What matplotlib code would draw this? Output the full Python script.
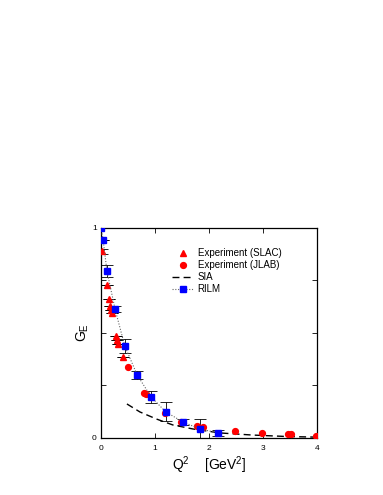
import matplotlib
matplotlib.use("Agg")
import matplotlib.pyplot as plt
from matplotlib.legend_handler import HandlerLine2D
import numpy as np

plt.rcParams['font.family'] = ['Liberation Sans', 'DejaVu Sans']
plt.rcParams['mathtext.fontset'] = 'custom'
plt.rcParams['mathtext.rm'] = 'Liberation Sans'
plt.rcParams['mathtext.it'] = 'Liberation Sans'

# SLAC experiment (red triangles)
slac_x = [0.02, 0.11, 0.15, 0.17, 0.19, 0.20, 0.28, 0.30, 0.31, 0.41]
slac_y = [0.89, 0.73, 0.66, 0.63, 0.61, 0.595, 0.486, 0.467, 0.448, 0.386]
slac_err = [0.012, 0, 0, 0, 0, 0, 0, 0, 0, 0]

# JLAB experiment (red circles)
jlab_x = [0.50, 0.79, 0.83, 1.18, 1.48, 1.78, 1.89, 2.48, 2.98, 3.46, 3.52, 3.98]
jlab_y = [0.338, 0.214, 0.21, 0.12, 0.078, 0.057, 0.052, 0.033, 0.023, 0.019, 0.017, 0.009]

# SIA (dashed curve)
sia_x = [0.48, 0.72, 1.03, 1.33, 1.70, 2.20, 2.80, 3.44, 4.0]
sia_y = [0.162, 0.124, 0.090, 0.062, 0.043, 0.024, 0.014, 0.007, 0.004]

# RILM (blue squares with errors)
rilm_x = [0.0, 0.04, 0.11, 0.26, 0.44, 0.67, 0.93, 1.20, 1.52, 1.83, 2.17]
rilm_y = [1.0, 0.943, 0.795, 0.614, 0.438, 0.30, 0.195, 0.124, 0.076, 0.043, 0.024]
rilm_err = [0.0, 0.0, 0.03, 0.015, 0.033, 0.02, 0.03, 0.045, 0.015, 0.045, 0.015]

x_ticks = [0, 1, 2, 3, 4]
y_ticks = [0, 0.25, 0.5, 0.75, 1.0]
y_ticklabels = ['0', '', '', '', '1']

fig = plt.figure(figsize=(3.83, 4.95), dpi=100)
ax = fig.add_axes([0.2637, 0.1152, 0.564, 0.4242])

# error bars
ax.errorbar(rilm_x, rilm_y, yerr=rilm_err, fmt='none', ecolor='black',
            elinewidth=0.6, capsize=4, capthick=0.6, zorder=2)
ax.errorbar(slac_x, slac_y, yerr=slac_err, fmt='none', ecolor='black',
            elinewidth=0.6, capsize=4, capthick=0.6, zorder=2)

l_slac, = ax.plot(slac_x, slac_y, linestyle='none', marker='^', color='red',
                  markersize=4.5, label='Experiment (SLAC)', zorder=3)
l_jlab, = ax.plot(jlab_x, jlab_y, linestyle='none', marker='o', color='red',
                  markersize=4.2, label='Experiment (JLAB)', zorder=3)
l_sia, = ax.plot(sia_x, sia_y, linestyle=(0, (5, 3)), color='black',
                 linewidth=1.0, label='SIA', zorder=2)
l_rilm, = ax.plot(rilm_x, rilm_y, linestyle=(0, (1, 1.5)), color='#666666',
                  linewidth=0.8, marker='s', markersize=4,
                  markerfacecolor='blue', markeredgecolor='blue',
                  label='RILM', zorder=4)

ax.set_xlim(0, 4)
ax.set_ylim(0, 1)
ax.set_xticks(x_ticks)
ax.set_xticklabels([str(t) for t in x_ticks])
ax.set_yticks(y_ticks)
ax.set_yticklabels(y_ticklabels)
ax.tick_params(direction='in', top=True, right=True, length=3.5, width=0.6,
               labelsize=6)
ax.tick_params(axis='x', pad=5)
ax.tick_params(axis='y', pad=3)
for s in ax.spines.values():
    s.set_linewidth(0.9)

ax.set_xlabel(r'Q$^2$    [GeV$^2$]', fontsize=10, labelpad=2)
ax.set_ylabel(r'G$_\mathrm{E}$', fontsize=10, labelpad=1)


class EndMarkerHandler(HandlerLine2D):
    def get_xdata(self, legend, xdescent, ydescent, width, height, fontsize):
        x0 = -xdescent
        return [x0, x0 + width], [x0 + width]


class TwoPointHandler(HandlerLine2D):
    def get_xdata(self, legend, xdescent, ydescent, width, height, fontsize):
        x0 = -xdescent
        return [x0, x0 + width], [x0, x0 + width]


leg = ax.legend(handles=[l_slac, l_jlab, l_sia, l_rilm],
                handler_map={l_slac: EndMarkerHandler(numpoints=1),
                             l_jlab: EndMarkerHandler(numpoints=1),
                             l_sia: HandlerLine2D(),
                             l_rilm: TwoPointHandler()},
                loc='upper left', bbox_to_anchor=(0.33, 0.905), frameon=False,
                fontsize=7, handlelength=2.2, handletextpad=0.4,
                labelspacing=0.22, borderpad=0, borderaxespad=0)

fig.savefig('out.png', dpi=100)
